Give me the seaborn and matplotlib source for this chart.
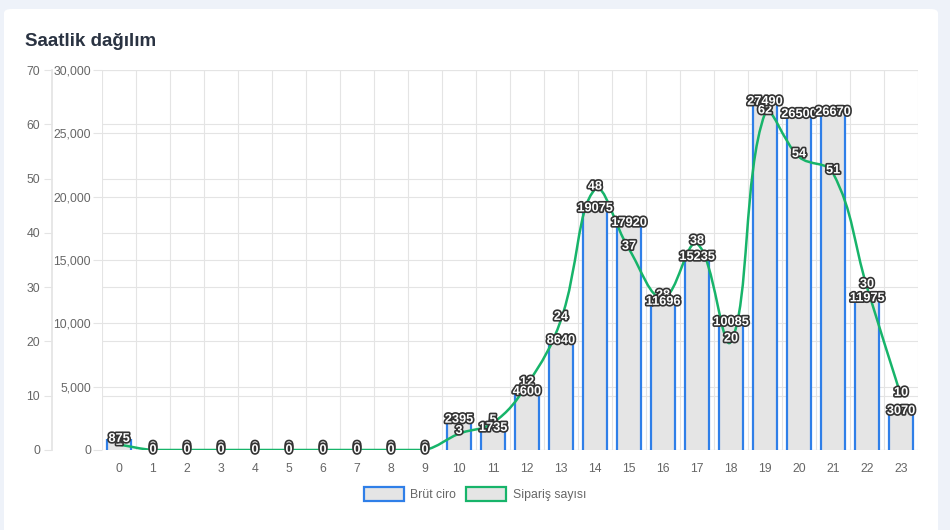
import numpy as np
import matplotlib
matplotlib.use("Agg")
import matplotlib.pyplot as plt
import seaborn as sns
from matplotlib.patches import Patch, FancyBboxPatch, PathPatch
from matplotlib.path import Path
from matplotlib.ticker import FuncFormatter, MultipleLocator
import matplotlib.patheffects as pe

# data
hours = [str(h) for h in range(24)]
revenue = [875, 0, 0, 0, 0, 0, 0, 0, 0, 0, 2395, 1735, 4600, 8640,
           19075, 17920, 11696, 15235, 10085, 27490, 26500, 26670, 11975, 3070]
orders = [1, 0, 0, 0, 0, 0, 0, 0, 0, 0, 3, 5, 12, 24,
          48, 37, 28, 38, 20, 62, 54, 51, 30, 10]
series_names = ["Brüt ciro", "Sipariş sayısı"]
title = "Saatlik dağılım"

BLUE = "#2f7fe8"
GREEN = "#17b46a"
BAR_FILL = "#e5e5e5"
GRID = "#e4e4e4"
TICK_TXT = "#666666"

sns.set_theme(style="white")
plt.rcParams["font.family"] = ["Liberation Sans", "DejaVu Sans"]

fig = plt.figure(figsize=(9.5, 5.3), dpi=100, facecolor="#eef2f9")
card = FancyBboxPatch((4 / 950, -0.1), 934 / 950, 1.1 - 9 / 530,
                      boxstyle="round,pad=0,rounding_size=0.008",
                      transform=fig.transFigure, facecolor="white",
                      edgecolor="none", zorder=-5)
fig.patches.append(card)
fig.text(25 / 950, 1 - 42 / 530, title, fontsize=13.5, fontweight="bold",
         color="#2a3342", va="center", ha="left")

W, H = 950, 530
ax_cnt = fig.add_axes([102 / W, 80 / H, 816 / W, 380 / H])
ax_cnt.patch.set_alpha(0)
ax_rev = ax_cnt.twinx()

# bars on revenue axis
sns.barplot(x=hours, y=revenue, order=hours, color=BAR_FILL, saturation=1,
            width=0.68, edgecolor="none", linewidth=0, ax=ax_rev, zorder=2)
bars = list(ax_rev.patches)
for p in bars:
    h = p.get_height()
    if h > 0:
        x0 = p.get_x()
        x1 = x0 + p.get_width()
        ax_rev.vlines([x0, x1], 0, h, color=BLUE, lw=1.6, zorder=3)

ax_cnt.set_xlim(-0.5, 23.5)
ax_cnt.set_ylim(0, 70)
ax_rev.set_ylim(0, 30000)

# smooth line (chart.js style spline, tension 0.4) on count scale
pts = ax_cnt.transData.transform(np.column_stack([np.arange(24), orders]))
bb = ax_cnt.bbox
t = 0.4
verts = [tuple(pts[0])]
codes = [Path.MOVETO]
ctrl_prev, ctrl_next = [], []
for i in range(len(pts)):
    prv = pts[i - 1] if i > 0 else pts[i]
    cur = pts[i]
    nxt = pts[i + 1] if i < len(pts) - 1 else pts[i]
    d01 = np.hypot(*(cur - prv))
    d12 = np.hypot(*(nxt - cur))
    tot = d01 + d12
    s01 = d01 / tot if tot else 0
    s12 = d12 / tot if tot else 0
    cp = cur - t * s01 * (nxt - prv)
    cn = cur + t * s12 * (nxt - prv)
    cp[1] = np.clip(cp[1], bb.y0, bb.y1)
    cn[1] = np.clip(cn[1], bb.y0, bb.y1)
    ctrl_prev.append(cp)
    ctrl_next.append(cn)
for i in range(1, len(pts)):
    verts += [tuple(ctrl_next[i - 1]), tuple(ctrl_prev[i]), tuple(pts[i])]
    codes += [Path.CURVE4] * 3
inv = ax_cnt.transData.inverted()
path = Path(inv.transform(np.array(verts)), codes)
ax_rev.add_patch(PathPatch(path, facecolor="none", edgecolor=GREEN, lw=1.8,
                           transform=ax_cnt.transData, zorder=4))
ax_rev.set_ylim(0, 30000)

# data labels: white text with a dark outline
stroke = [pe.withStroke(linewidth=2.4, foreground="#333333")]
for i, v in enumerate(orders):
    ax_rev.annotate(str(v), (i, v), xycoords=ax_cnt.transData,
                    xytext=(0, 2), textcoords="offset points",
                    ha="center", va="center", fontsize=9.2, fontweight="bold",
                    color="white", path_effects=stroke, zorder=5)
for i, v in enumerate(revenue):
    ax_rev.annotate(str(v), (i, v), xycoords="data",
                    ha="center", va="center", fontsize=9.2, fontweight="bold",
                    color="white", path_effects=stroke, zorder=6)

# axes styling
ax_rev.yaxis.tick_left()
ax_rev.yaxis.set_major_locator(MultipleLocator(5000))
ax_rev.yaxis.set_major_formatter(FuncFormatter(lambda v, _: f"{int(v):,}"))
ax_rev.tick_params(axis="y", length=6.5, width=0.8, color=GRID, pad=1.5,
                   labelsize=8.8, labelcolor=TICK_TXT, left=True, right=False,
                   labelleft=True, labelright=False)
ax_rev.set_axisbelow(True)
ax_rev.yaxis.grid(True, color=GRID, lw=0.8)
ax_rev.set_xlabel("")
ax_rev.set_ylabel("")

ax_cnt.yaxis.set_major_locator(MultipleLocator(10))
ax_cnt.spines["left"].set_position(("outward", 36))
ax_cnt.tick_params(axis="y", length=6, width=0.8, color=GRID, pad=2.5,
                   labelsize=8.8, labelcolor=TICK_TXT)
ax_cnt.yaxis.grid(True, color=GRID, lw=0.8)

ax_cnt.set_xticks(range(24))
ax_cnt.set_xticklabels(hours)
ax_cnt.set_xticks(np.arange(-0.5, 24, 1), minor=True)
ax_cnt.tick_params(axis="x", which="major", length=0, pad=9, labelsize=8.8,
                   labelcolor=TICK_TXT)
ax_cnt.tick_params(axis="x", which="minor", length=5.5, width=0.8, color=GRID)
ax_cnt.xaxis.grid(True, which="minor", color=GRID, lw=0.8)
ax_cnt.xaxis.grid(False, which="major")

for ax in (ax_cnt, ax_rev):
    for s in ("top", "right", "bottom"):
        ax.spines[s].set_visible(False)
ax_cnt.spines["left"].set_color(GRID)
ax_rev.spines["left"].set_visible(False)

handles = [Patch(facecolor=BAR_FILL, edgecolor=BLUE, lw=1.6),
           Patch(facecolor=BAR_FILL, edgecolor=GREEN, lw=1.6)]
leg = fig.legend(handles, series_names, loc="center", ncol=2, frameon=False,
                 bbox_to_anchor=(0.5, 1 - 494 / 530), fontsize=8.8,
                 handlelength=3.3, handleheight=1.4, columnspacing=0.8,
                 handletextpad=0.5)
for txt in leg.get_texts():
    txt.set_color(TICK_TXT)

fig.savefig("out.png", dpi=100, facecolor=fig.get_facecolor())
